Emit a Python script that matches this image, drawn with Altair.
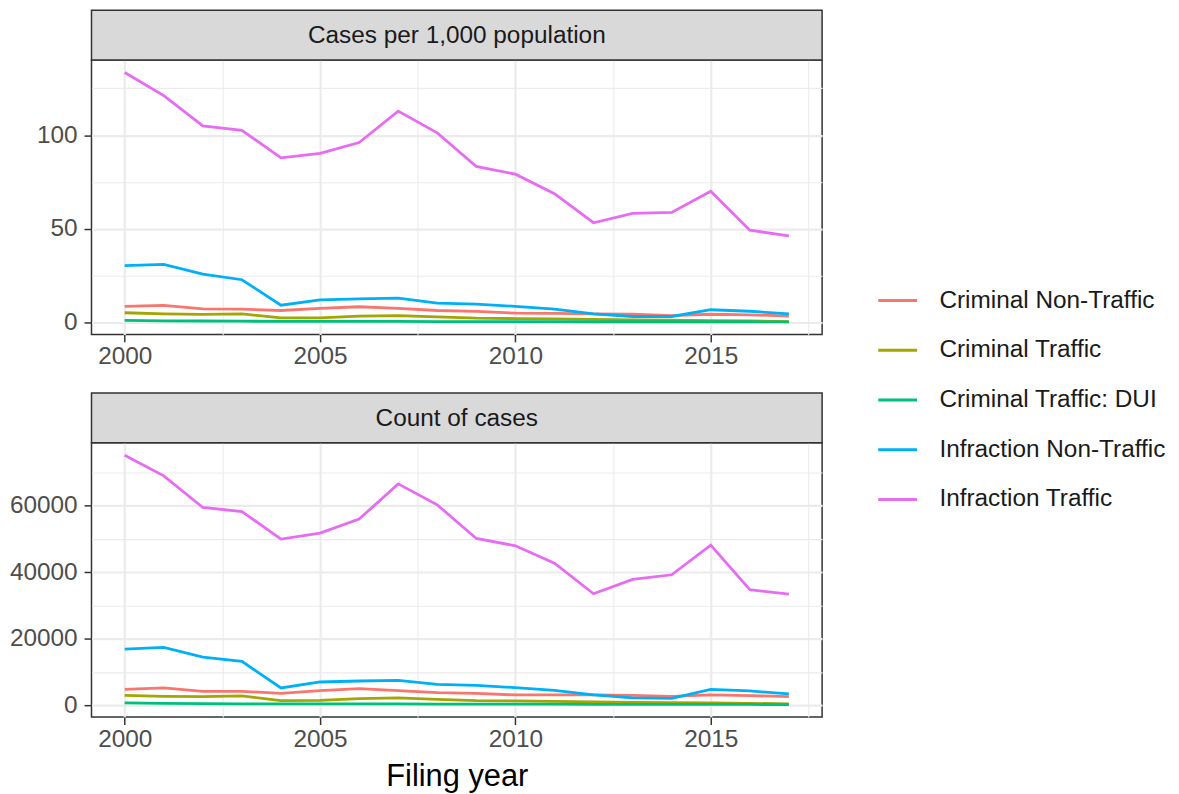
import altair as alt
import pandas as pd

years = list(range(2000, 2018))
series = ["Criminal Non-Traffic", "Criminal Traffic", "Criminal Traffic: DUI",
          "Infraction Non-Traffic", "Infraction Traffic"]
colors = ["#F8766D", "#A3A500", "#00BF7D", "#00B0F6", "#E76BF3"]

# Cases per 1,000 population
rate_crim_nontraffic = [8.7, 9.2, 7.4, 7.2, 6.5, 7.6, 8.5, 7.6, 6.5, 6.0, 5.1, 5.0, 4.7, 4.5, 3.8, 4.5, 4.2, 3.5]
rate_crim_traffic = [5.3, 4.7, 4.4, 4.7, 2.6, 2.6, 3.5, 3.8, 3.1, 2.4, 2.2, 2.0, 1.8, 1.5, 1.3, 1.1, 1.0, 0.6]
rate_crim_dui = [1.2, 1.0, 0.9, 0.8, 0.7, 0.7, 0.7, 0.7, 0.6, 0.6, 0.6, 0.6, 0.5, 0.5, 0.5, 0.5, 0.5, 0.4]
rate_inf_nontraffic = [30.4, 31.1, 25.9, 22.9, 9.3, 12.2, 12.7, 13.1, 10.4, 9.9, 8.7, 7.2, 4.7, 3.3, 3.3, 6.9, 6.1, 4.7]
rate_inf_traffic = [133.4, 121.1, 104.9, 102.6, 87.9, 90.3, 96.1, 112.8, 101.2, 83.3, 79.2, 68.8, 53.3, 58.3, 58.8, 70.1, 49.3, 46.3]

# Count of cases
cnt_crim_nontraffic = [4900, 5300, 4300, 4300, 3700, 4500, 5100, 4500, 3900, 3700, 3200, 3200, 3200, 3100, 2800, 3200, 3000, 2700]
cnt_crim_traffic = [3100, 2800, 2700, 2900, 1500, 1600, 2100, 2300, 1900, 1500, 1400, 1300, 1100, 1000, 900, 800, 700, 500]
cnt_crim_dui = [800, 650, 600, 550, 500, 500, 500, 500, 450, 450, 450, 450, 400, 400, 400, 350, 350, 300]
cnt_inf_nontraffic = [17000, 17500, 14600, 13300, 5300, 7100, 7400, 7600, 6400, 6100, 5400, 4600, 3200, 2300, 2200, 4900, 4400, 3500]
cnt_inf_traffic = [75200, 69000, 59500, 58300, 50000, 51800, 56000, 66600, 60300, 50200, 48000, 42800, 33600, 37900, 39300, 48200, 34800, 33500]

rates = [rate_crim_nontraffic, rate_crim_traffic, rate_crim_dui, rate_inf_nontraffic, rate_inf_traffic]
counts = [cnt_crim_nontraffic, cnt_crim_traffic, cnt_crim_dui, cnt_inf_nontraffic, cnt_inf_traffic]


def long_df(arrays):
    rows = []
    for name, vals in zip(series, arrays):
        for y, v in zip(years, vals):
            rows.append({"year": y, "value": v, "type": name})
    return pd.DataFrame(rows)


def expand(vals, frac=0.05):
    lo, hi = min(vals), max(vals)
    span = hi - lo
    return [lo - frac * span, hi + frac * span]


FONT = "Liberation Sans"
FS = 24.5
W = 735
H = 276
STRIP = 50
xdom = [years[0] - 0.05 * (years[-1] - years[0]), years[-1] + 0.05 * (years[-1] - years[0])]
x_values = [2000, 2002.5, 2005, 2007.5, 2010, 2012.5, 2015, 2017.5]

color_scale = alt.Scale(domain=series, range=colors)


def panel(arrays, title, y_values, major_step, show_title):
    df = long_df(arrays)
    all_vals = [v for a in arrays for v in a]
    ydom = expand(all_vals)
    xaxis = alt.Axis(
        values=x_values, format="d",
        labelExpr="datum.value % 5 === 0 ? datum.label : ''",
        gridColor="#ebebeb",
        gridWidth={"condition": {"test": "datum.value % 5 === 0", "value": 2.2}, "value": 1.1},
        tickOpacity={"condition": {"test": "datum.value % 5 === 0", "value": 1}, "value": 0},
        title="Filing year" if show_title else None,
    )
    yaxis = alt.Axis(
        values=y_values,
        labelExpr=f"datum.value % {major_step} === 0 ? datum.label : ''",
        format="d",
        gridColor="#ebebeb",
        gridWidth={"condition": {"test": f"datum.value % {major_step} === 0", "value": 2.2}, "value": 1.1},
        tickOpacity={"condition": {"test": f"datum.value % {major_step} === 0", "value": 1}, "value": 0},
        title=None,
    )
    lines = alt.Chart(df).mark_line(strokeWidth=2.8).encode(
        x=alt.X("year:Q", scale=alt.Scale(domain=xdom, nice=False, zero=False), axis=xaxis),
        y=alt.Y("value:Q", scale=alt.Scale(domain=ydom, nice=False, zero=False), axis=yaxis),
        color=alt.Color("type:N", scale=color_scale,
                        legend=alt.Legend(title=None)),
    )
    lab = pd.DataFrame({"label": [title]})
    rect = alt.Chart(lab).mark_rect(fill="#d9d9d9", stroke="#333333", strokeWidth=1.5).encode(
        x=alt.value(0), x2=alt.value(W), y=alt.value(-STRIP), y2=alt.value(0)
    )
    text = alt.Chart(lab).mark_text(font=FONT, fontSize=FS, color="#1a1a1a",
                                    align="center", baseline="middle").encode(
        x=alt.value(W / 2), y=alt.value(-STRIP / 2 + 1), text="label:N"
    )
    return alt.layer(lines, rect, text).properties(width=W, height=H)


top = panel(rates, "Cases per 1,000 population", [0, 25, 50, 75, 100, 125], 50, False)
bottom = panel(counts, "Count of cases", [0, 10000, 20000, 30000, 40000, 50000, 60000, 70000], 20000, True)

chart = alt.vconcat(top, bottom, spacing=22).resolve_scale(
    y="independent", color="shared"
).properties(
    padding={"left": 0, "top": -2, "right": 5, "bottom": 0}
).configure_view(
    stroke="#333333", strokeWidth=1.5
).configure_axis(
    labelFont=FONT, labelFontSize=FS, labelColor="#4d4d4d",
    titleFont=FONT, titleFontSize=31, titleColor="#000000", titleFontWeight="normal",
    domain=False, tickColor="#333333", tickWidth=1.5, tickSize=7.5, labelPadding=3,
    grid=True,
).configure_axisY(labelPadding=7).configure_axisX(titlePadding=11).configure_legend(
    orient="none", legendX=790, legendY=221,
    symbolType="stroke", symbolSize=1521, symbolStrokeWidth=3,
    labelFont=FONT, labelFontSize=FS, labelColor="#1a1a1a", labelLimit=400,
    labelOffset=21, rowPadding=17, padding=0,
)

chart.save("out.html", embed_options={"renderer": "svg", "actions": False})
